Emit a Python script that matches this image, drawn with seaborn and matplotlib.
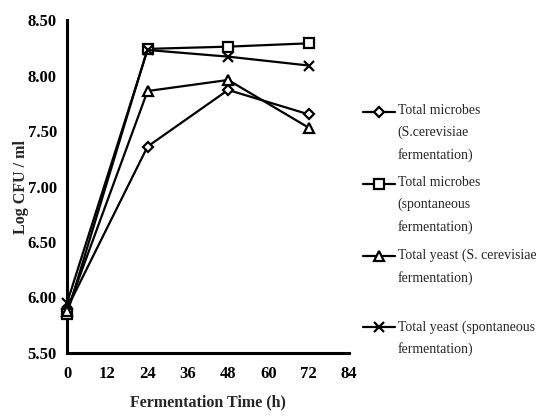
import matplotlib
matplotlib.use("Agg")
import matplotlib.pyplot as plt
import seaborn as sns
from matplotlib.legend_handler import HandlerLine2D

hours = [0, 24, 48, 72]
microbes_sc = [5.90, 7.36, 7.87, 7.65]
microbes_spont = [5.85, 8.24, 8.26, 8.29]
yeast_sc = [5.88, 7.86, 7.96, 7.53]
yeast_spont = [5.95, 8.23, 8.17, 8.09]

labels = [
    "Total microbes\n(S.cerevisiae\nfermentation)",
    "Total microbes\n(spontaneous\nfermentation)",
    "Total yeast (S. cerevisiae\nfermentation)\n",
    "Total yeast (spontaneous\nfermentation)\n",
]
x_ticks = [0, 12, 24, 36, 48, 60, 72, 84]
y_ticks = [5.5, 6.0, 6.5, 7.0, 7.5, 8.0, 8.5]


class FirstLineHandler(HandlerLine2D):
    # put the legend glyph next to the first line of a multi-line label
    def __init__(self, shift, **kw):
        super().__init__(**kw)
        self.shift = shift

    def create_artists(self, legend, orig_handle, xdescent, ydescent,
                       width, height, fontsize, trans):
        return super().create_artists(legend, orig_handle, xdescent,
                                      ydescent - 2 * self.shift, width,
                                      height, fontsize, trans)


def main():
    sns.set_theme(style="white")
    plt.rcParams["font.family"] = ["Liberation Serif", "DejaVu Serif"]

    fig = plt.figure(figsize=(5.36, 4.17), dpi=100)
    ax = fig.add_axes([0.125, 0.1535, 0.526, 0.7985])

    series = [microbes_sc, microbes_spont, yeast_sc, yeast_spont]
    markers = ["D", "s", "^", "x"]
    sizes = [5.5, 6.5, 7, 7]
    for vals, m, ms, lab in zip(series, markers, sizes, labels):
        sns.lineplot(x=hours, y=vals, ax=ax, color="black", marker=m,
                     markersize=ms, markerfacecolor="white",
                     markeredgecolor="black", markeredgewidth=1.6,
                     linewidth=1.6, label=lab, clip_on=False, zorder=3)

    ax.set_xlim(0, 84)
    ax.set_ylim(5.5, 8.5)
    ax.set_xticks(x_ticks)
    ax.set_yticks(y_ticks)
    ax.set_yticklabels([f"{v:.2f}" for v in y_ticks])
    for side in ["top", "right"]:
        ax.spines[side].set_visible(False)
    for side in ["left", "bottom"]:
        ax.spines[side].set_linewidth(2.2)
        ax.spines[side].set_color("black")
    ax.tick_params(axis="both", direction="inout", length=6.5, width=2,
                   colors="black", labelsize=12)
    ax.tick_params(axis="y", pad=4)
    ax.tick_params(axis="x", pad=6)
    for t in ax.get_xticklabels() + ax.get_yticklabels():
        t.set_fontweight("bold")

    ax.set_xlabel("Fermentation Time (h)", fontsize=11.5,
                  fontweight="bold", labelpad=9)
    ax.set_ylabel("Log CFU / ml", fontsize=11.5, fontweight="bold",
                  labelpad=-1)

    handles, labs = ax.get_legend_handles_labels()
    ax.get_legend().remove()
    leg = fig.legend(handles, labs, loc="upper left",
                     bbox_to_anchor=(0.677, 0.75), frameon=False,
                     fontsize=10, handlelength=2.3, handletextpad=0.2,
                     borderpad=0, borderaxespad=0, labelspacing=1.03,
                     handler_map={h: FirstLineHandler(15.5) for h in handles})
    for t in leg.get_texts():
        t.set_linespacing(1.82)

    fig.savefig("out.png", dpi=100)


if __name__ == "__main__":
    main()
